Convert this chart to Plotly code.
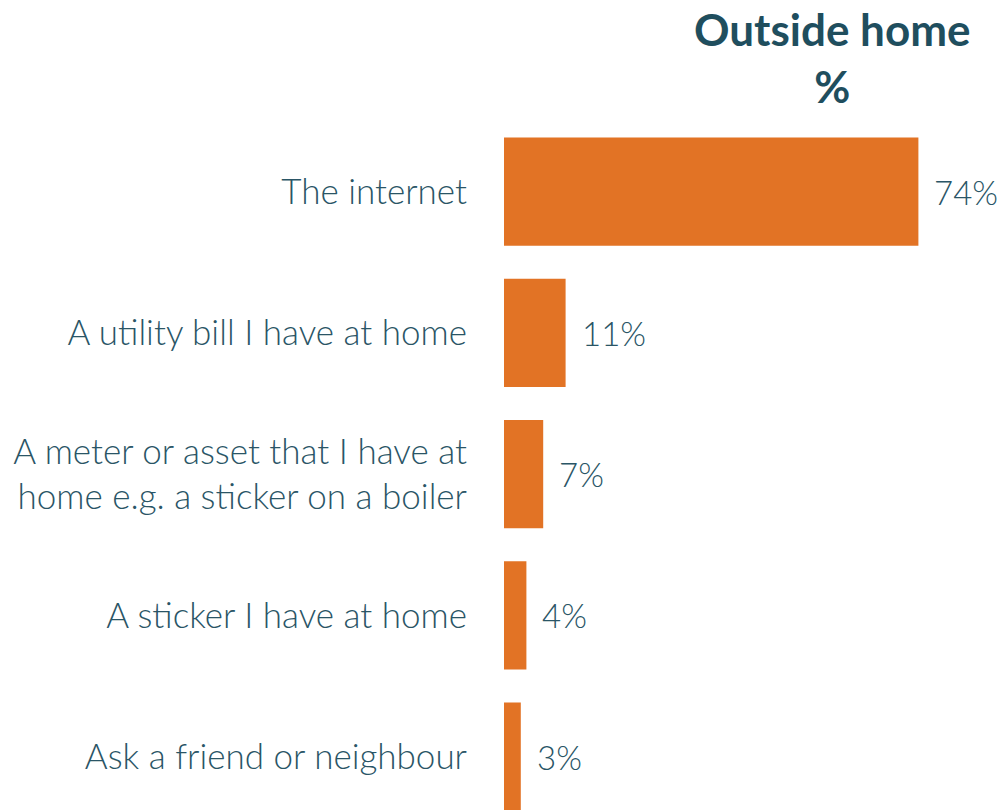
import plotly.graph_objects as go

categories = [
    "The internet",
    "A utility bill I have at home",
    "A meter or asset that I have at<br>home e.g. a sticker on a boiler",
    "A sticker I have at home",
    "Ask a friend or neighbour",
]
values = [74, 11, 7, 4, 3]
value_labels = ["74%", "11%", "7%", "4%", "3%"]
title_text = "Outside home<br>%"

BAR = "#E27325"
TEXT = "#2A5566"
TITLE = "#1F4E5E"
FONT = "Lato"

fig = go.Figure()
fig.add_trace(go.Bar(
    x=values, y=categories, orientation="h",
    marker=dict(color=BAR, line=dict(width=0)),
    width=0.765, hoverinfo="skip",
))

for v, c, t in zip(values, categories, value_labels):
    fig.add_annotation(x=v, y=c, xref="x", yref="y", text=t, showarrow=False,
                       xanchor="left", yanchor="middle", xshift=14,
                       font=dict(family=FONT, size=33, color=TEXT, weight=300))

W, H = 1001, 810
mt, mb, ml, mr = 121, 0, 504, 0
ph = H - mt - mb
pw = W - ml - mr
fig.add_annotation(xref="paper", yref="paper", x=(832 - ml) / pw,
                   y=1 + (mt - 1) / ph, xanchor="center", yanchor="top",
                   text="<b>" + title_text + "</b>", showarrow=False,
                   font=dict(family=FONT, size=44, color=TITLE))

fig.update_layout(
    width=W, height=H,
    margin=dict(l=ml, r=mr, t=mt, b=mb, pad=0),
    plot_bgcolor="white", paper_bgcolor="white",
    showlegend=False,
    xaxis=dict(range=[0, pw / 5.6], visible=False, fixedrange=True),
    yaxis=dict(categoryorder="array", categoryarray=categories,
               range=[-0.5 + ph / 141.25, -0.5], showgrid=False, zeroline=False,
               showline=False, ticks="", ticklabelstandoff=36, fixedrange=True,
               tickfont=dict(family=FONT, size=35, color=TEXT, weight=300)),
    font=dict(family=FONT, color=TEXT),
)

fig.write_html("out.html",
               config={"displayModeBar": False},
               post_script="document.body.style.margin='0';document.body.style.overflow='hidden';")
